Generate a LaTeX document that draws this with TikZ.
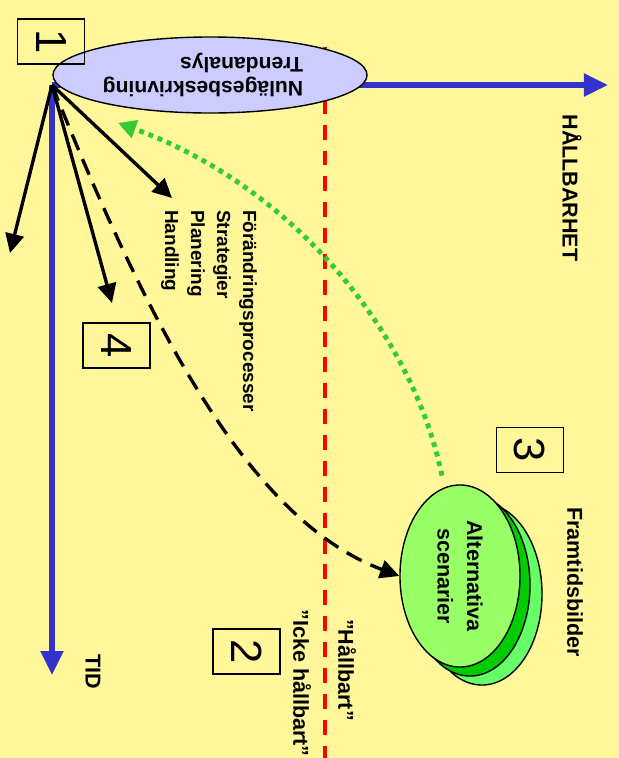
\documentclass[tikz,border=0pt]{standalone}
\usepackage{fontspec}
\setmainfont{Liberation Sans}
\usetikzlibrary{arrows.meta,shapes.geometric,positioning}

\definecolor{bgyellow}{HTML}{FFF799}
\definecolor{axisblue}{HTML}{3333CC}
\definecolor{trendlila}{HTML}{CCCCFF}
\definecolor{scenlight}{HTML}{99FF66}
\definecolor{scendark}{HTML}{00CC00}
\definecolor{scenpale}{HTML}{66FF66}
\definecolor{dotgreen}{HTML}{33CC33}

\tikzset{
  numbox/.style={draw=black, line width=1.1pt, rotate=-90, minimum width=1.125cm, minimum height=1.675cm, inner sep=0pt, font=\fontsize{31}{31}\selectfont},
  axisline/.style={axisblue, line width=3.9pt, -{Triangle[length=0.6cm,width=0.55cm]}},
  pathline/.style={black, line width=2.4pt, -{Triangle[length=0.48cm,width=0.46cm]}},
  sidetext/.style={rotate=-90, inner sep=0pt, font=\fontsize{15.3}{21}\selectfont\bfseries},
  scenario/.style={ellipse, draw=black, line width=1pt, rotate=-90, minimum width=4.55cm, minimum height=3cm, inner sep=0pt, align=center}
}

\begin{document}
\begin{tikzpicture}[x=0.025cm, y=-0.025cm]
			% Background
			\fill[bgyellow] (0,0) rectangle (619,758);
			\useasboundingbox (0,0) rectangle (619,758);
			
			% Border between sustainable and not
			\coordinate (redtop) at (325,47);
			\coordinate (redbottom) at (325,758);
			\draw[red, line width=2.8pt, dash pattern=on 10.6pt off 7.8pt] (redtop) -- (redbottom);
			
			% Axes
			\coordinate (O) at (52,85);
			\coordinate (hallend) at (608,85);
			\coordinate (tidend) at (52,675);
			\draw[axisline] (O) -- (hallend);
			\draw[axisline] (O) -- (tidend);
			
			% Present state
			\node[ellipse, draw, line width=1pt, fill=trendlila, rotate=180, minimum width=7.85cm, minimum height=1.9cm, inner sep=0pt, align=left, font=\fontsize{15}{17}\selectfont\bfseries] (nulage) at (210,75) {\hspace*{0.35cm}Nulägesbeskrivning\\\hspace*{0.35cm}Trendanalys};
			
			% Future images
			\node[scenario, fill=scenpale] (scenback) at (482,594) {};
			\node[scenario, fill=scendark] (scenmid) at (470,585) {};
			\node[scenario, fill=scenlight, font=\fontsize{15.3}{21}\selectfont\bfseries] (scenfront) at (460,576) {Alternativa\\scenarier};
			
			% Labels
			\node[sidetext] (hallbarhet) at (572,188) {HÅLLBARHET};
			\node[sidetext] (tid) at (93,672) {TID};
			\node[sidetext] (framtid) at (575,582) {Framtidsbilder};
			\node[sidetext] (hallbart) at (347,670) {”Hållbart”};
			\node[sidetext] (ickehallbart) at (302,683) {”Icke hållbart”};
			\node[sidetext, align=left, font=\fontsize{13.5}{18.5}\selectfont\bfseries] (processer) at (209,311) {Förändringsprocesser\\Strategier\\Planering\\Handling};
			
			% Numbered boxes
			\node[numbox] (nr1) at (51,41.5) {1};
			\node[numbox] (nr4) at (116.5,345.5) {4};
			\node[numbox] (nr3) at (530,450) {3};
			\node[numbox] (nr2) at (246.5,651.5) {2};
			
			% Paths from today
			\coordinate (backtip) at (10,253);
			\coordinate (handtip) at (112,303);
			\coordinate (proctip) at (172,198);
			\coordinate (trendtip) at (118,123);
			\draw[pathline] (O) -- (backtip);
			\draw[pathline] (O) -- (handtip);
			\draw[pathline] (O) -- (proctip);
			\draw[pathline, dash pattern=on 12pt off 7pt] (O) .. controls (150,330) and (250,520) .. (scenfront.south);
			\draw[dotgreen, line width=3.5pt, dash pattern=on 3.5pt off 3.5pt, shorten <=0.3cm, -{Triangle[length=0.45cm,width=0.45cm]}] (scenfront.190) .. controls (412,330) and (290,185) .. (trendtip);
		\end{tikzpicture}
\end{document}
